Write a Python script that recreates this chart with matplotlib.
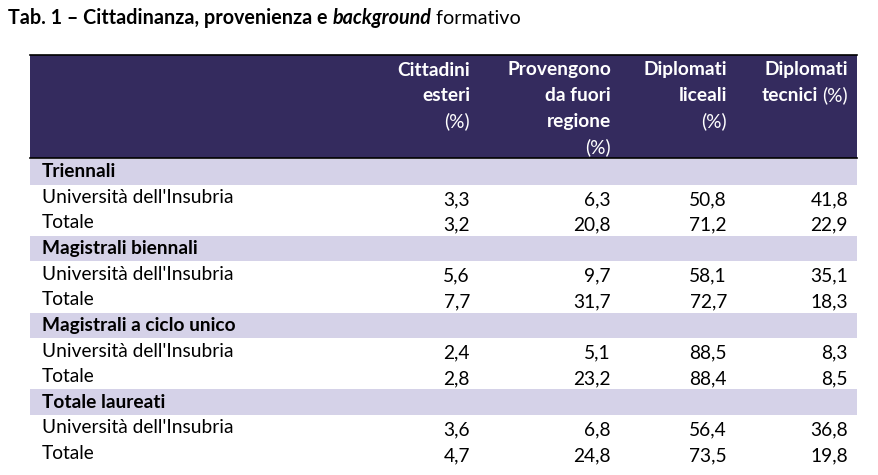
import matplotlib
matplotlib.use("Agg")
import matplotlib.pyplot as plt
from matplotlib.patches import Rectangle

title_main = "Tab. 1 – Cittadinanza, provenienza e "
title_it = "background"
title_end = " formativo"
headers = [["Cittadini", "esteri", "(%)"],
           ["Provengono", "da fuori", "regione", "(%)"],
           ["Diplomati", "liceali", "(%)"],
           ["Diplomati", "tecnici (%)"]]
groups = ["Triennali", "Magistrali biennali", "Magistrali a ciclo unico", "Totale laureati"]
row_labels = ["Università dell'Insubria", "Totale"]
cittadini = ["3,3", "3,2", "5,6", "7,7", "2,4", "2,8", "3,6", "4,7"]
fuori = ["6,3", "20,8", "9,7", "31,7", "5,1", "23,2", "6,8", "24,8"]
liceali = ["50,8", "71,2", "58,1", "72,7", "88,5", "88,4", "56,4", "73,5"]
tecnici = ["41,8", "22,9", "35,1", "18,3", "8,3", "8,5", "36,8", "19,8"]
cols = [cittadini, fuori, liceali, tecnici]

W, H = 879, 475
fig = plt.figure(figsize=(W/100, H/100), dpi=100)
ax = fig.add_axes([0, 0, 1, 1])
ax.set_xlim(0, W); ax.set_ylim(H, 0); ax.axis("off")
FONT = "Lato"; FS = 13.8
navy = "#342B5E"; lav = "#D5D2E8"
colx = [470, 611, 727, 848]
x0, x1 = 30, 857

# title
TFS = 14.2
t = ax.text(8, 18, title_main, fontsize=TFS, fontweight="bold", family=FONT, va="center")
fig.canvas.draw()
r = fig.canvas.get_renderer()
bb = t.get_window_extent(r)
t2 = ax.text(8 + bb.width, 18, title_it, fontsize=TFS, fontweight="bold", style="italic", family=FONT, va="center")
bb2 = t2.get_window_extent(r)
ax.text(8 + bb.width + bb2.width, 18, title_end, fontsize=TFS, family=FONT, va="center")

# header
ax.add_patch(Rectangle((x0, 55), x1 - x0, 103, color=navy, lw=0))
ax.plot([x0, x1], [55, 55], color="black", lw=1.2)
ax.plot([x0, x1], [158, 158], color="black", lw=1.2)
for cx, lines in zip(colx, headers):
    for i, ln in enumerate(lines):
        if ln.endswith("(%)") and ln != "(%)":
            base = ln[:-4]
            tt = ax.text(cx, 70 + 25.6*i, "(%)", color="white", fontsize=FS, family=FONT, ha="right", va="center")
            wb = tt.get_window_extent(r).width
            ax.text(cx - wb - 4, 70 + 25.6*i, base, color="white", fontsize=FS, fontweight="bold", family=FONT, ha="right", va="center")
        else:
            bold = ln != "(%)"
            ax.text(cx, 70 + 25.6*i, ln, color="white", fontsize=FS, family=FONT,
                    fontweight="bold" if bold else "normal", ha="right", va="center")

rh = 25.6
y = 159
k = 0
for g in groups:
    ax.add_patch(Rectangle((x0, y), x1 - x0, rh, color=lav, lw=0))
    ax.text(42, y + rh/2, g, fontsize=FS, fontweight="bold", family=FONT, va="center")
    y += rh
    for lab in row_labels:
        ax.text(42, y + rh/2, lab, fontsize=FS, family=FONT, va="center")
        for cx, c in zip(colx, cols):
            ax.text(cx, y + rh/2 + 2, c[k], fontsize=FS, family=FONT, ha="right", va="center")
        k += 1
        y += rh

fig.savefig("out.png", dpi=100)
